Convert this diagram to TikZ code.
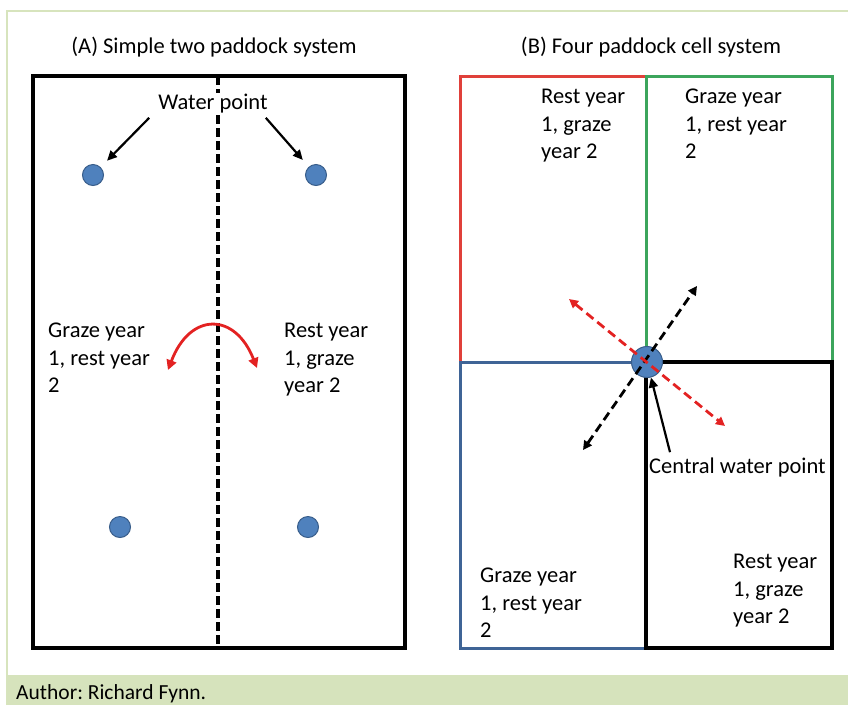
\documentclass[tikz,border=0pt]{standalone}
\usepackage{fontspec}
\setmainfont{Carlito}
\frenchspacing
\usetikzlibrary{arrows.meta,positioning,calc}
\definecolor{framegreen}{HTML}{D7E4BD}
\definecolor{bandgreen}{HTML}{D6E3BC}
\definecolor{waterblue}{HTML}{4F81BD}
\definecolor{waterrim}{HTML}{385D8A}
\definecolor{cellred}{HTML}{E0403A}
\definecolor{cellgreen}{HTML}{3CA55C}
\definecolor{cellblue}{HTML}{3F6496}
\definecolor{swapred}{HTML}{E32222}
\tikzset{
  paddocktext/.style={font=\fontsize{22.5}{27.4}\selectfont,align=left,inner sep=0pt,anchor=north west},
  titletext/.style={font=\fontsize{22.5}{26}\selectfont,inner sep=0pt,anchor=base},
  water/.style={circle,fill=waterblue,draw=waterrim,line width=1pt,inner sep=0pt,minimum size=21pt},
  paddock/.style={draw=black,line width=3.2pt},
  cell/.style={line width=3pt},
  pointer/.style={-{Triangle[length=10pt,width=9pt]},line width=2.2pt,draw=black},
  swaparc/.style={{Triangle[length=10pt,width=10pt]}-{Triangle[length=10pt,width=10pt]},line width=2.8pt,draw=swapred},
  spoke/.style={{Triangle[length=9pt,width=9pt]}-{Triangle[length=9pt,width=9pt]},line width=2.8pt,dash pattern=on 9pt off 5pt}
}
\begin{document}
\begin{tikzpicture}[x=1pt,y=-1pt]
  \useasboundingbox (0,0) rectangle (848,705);
  % frame and caption band
  \draw[framegreen,line width=2pt] (7,705) -- (7,11) -- (848,11);
  \fill[bandgreen] (7,675) rectangle (848,705);
  \node[titletext,font=\fontsize{21.5}{26}\selectfont,anchor=base west] (author) at (16,699) {Author: Richard Fynn.};

  % (A) two paddocks
  \node[titletext] (titleA) at (214,53) {(A) Simple two paddock system};
  \draw[paddock] (33,76) rectangle (405,648);
  \draw[line width=3.2pt,dash pattern=on 9pt off 4pt] (218,76) -- (218,648);
  \node[water] (wa1) at (93,175) {};
  \node[water] (wa2) at (316,175) {};
  \node[water] (wa3) at (120,527) {};
  \node[water] (wa4) at (308,527) {};
  \node[titletext,fill=white,inner sep=1pt] (wp) at (213,109) {Water point};
  \draw[pointer,shorten >=9pt] ([xshift=-8pt,yshift=-4pt]wp.south west) -- (wa1);
  \draw[pointer,shorten >=9pt] ([xshift=-3pt,yshift=-4pt]wp.south east) -- (wa2);
  \node[paddocktext] (grazeA) at (48,323) {Graze year\\1, rest year\\2};
  \node[paddocktext] (restA) at (284,323) {Rest year\\1, graze\\year 2};
  \coordinate (swapL) at (168,370);
  \coordinate (swapR) at (257,368);
  \draw[swaparc] (swapL) .. controls (190,312) and (235,312) .. (swapR);

  % (B) four paddock cell
  \node[titletext] (titleB) at (651,53) {(B) Four paddock cell system};
  \draw[cell,draw=cellred] (460,76) rectangle (646,362);
  \draw[cell,draw=cellgreen] (646,76) rectangle (832,362);
  \draw[cell,draw=cellblue] (460,362) rectangle (646,648);
  \draw[paddock] (646,362) rectangle (832,648);
  \node[paddocktext] (restTL) at (541,89) {Rest year\\1, graze\\year 2};
  \node[paddocktext] (grazeTR) at (685,89) {Graze year\\1, rest year\\2};
  \node[paddocktext] (grazeBL) at (480,568) {Graze year\\1, rest year\\2};
  \node[paddocktext] (restBR) at (733,554) {Rest year\\1, graze\\year 2};
  \node[water,minimum size=31pt] (cw) at (647,362) {};
  \coordinate (swB) at (583,450);
  \coordinate (neB) at (697,286);
  \coordinate (nwR) at (569,299);
  \coordinate (seR) at (725,426);
  \draw[spoke,draw=black] (swB) -- (neB);
  \draw[spoke,draw=swapred] (nwR) -- (seR);
  \node[titletext,anchor=base west] (cwp) at (649,473) {Central water point};
  \draw[pointer] ([xshift=21pt,yshift=5pt]cwp.north west) -- (cw);
\end{tikzpicture}
\end{document}
